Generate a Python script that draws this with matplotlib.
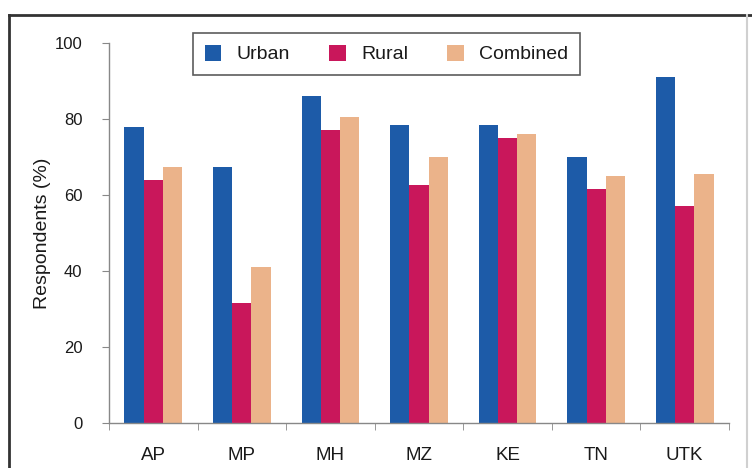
import matplotlib
matplotlib.use("Agg")
import matplotlib.pyplot as plt
import numpy as np
from matplotlib.lines import Line2D

categories = ["AP", "MP", "MH", "MZ", "KE", "TN", "UTK"]
urban = [78, 67.5, 86, 78.5, 78.5, 70, 91]
rural = [64, 31.5, 77, 62.5, 75, 61.5, 57]
combined = [67.5, 41, 80.5, 70, 76, 65, 65.5]
yticks = [0, 20, 40, 60, 80, 100]

plt.rcParams['font.family'] = ['Liberation Sans', 'DejaVu Sans']

W, H = 752, 468
fig = plt.figure(figsize=(W/100, H/100), dpi=100)
fig.patch.set_facecolor('white')

# outer frame
fig.add_artist(Line2D([9/W, 9/W], [0, 1-15/H], transform=fig.transFigure, color='#333333', lw=2))
fig.add_artist(Line2D([9/W, 1], [1-15/H, 1-15/H], transform=fig.transFigure, color='#333333', lw=2))
fig.add_artist(Line2D([747/W, 747/W], [0, 1-15/H], transform=fig.transFigure, color='#d0d0d0', lw=1.5))

left, right = 109/W, 729/W
bottom, top = 1-423/H, 1-43/H
ax = fig.add_axes([left, bottom, right-left, top-bottom])

x = np.arange(len(categories))
bw = 0.217
c_u, c_r, c_c = '#1d5ba8', '#c9175b', '#ebb38a'
ax.bar(x - bw, urban, bw, color=c_u, label='Urban')
ax.bar(x, rural, bw, color=c_r, label='Rural')
ax.bar(x + bw, combined, bw, color=c_c, label='Combined')

tc = '#1a1a1a'
ax.set_xlim(-0.5, len(categories) - 0.5)
ax.set_ylim(0, 100)
ax.set_yticks(yticks)
ax.set_yticklabels([str(t) for t in yticks], fontsize=12, color=tc)
ax.set_xticks(x)
ax.set_xticklabels(categories, fontsize=13.5, color=tc)
ax.tick_params(axis='x', which='major', length=0, pad=17)
ax.set_xticks(np.arange(-0.5, len(categories), 1.0), minor=True)
ax.tick_params(axis='x', which='minor', length=5, color='#888888', direction='out')
ax.tick_params(axis='y', length=5, color='#888888', pad=14)
for s in ['top', 'right']:
    ax.spines[s].set_visible(False)
for s in ['left', 'bottom']:
    ax.spines[s].set_color('#888888')
    ax.spines[s].set_linewidth(1)
ax.set_ylabel('Respondents (%)', fontsize=14, color=tc, labelpad=3)

leg = ax.legend(ncol=3, loc='upper left', bbox_to_anchor=(193/W, 1 - 33/H),
                bbox_transform=fig.transFigure, borderaxespad=0,
                frameon=True, fancybox=False, fontsize=14, handlelength=0.85, handleheight=0.9,
                columnspacing=2.0, handletextpad=0.8, borderpad=0.6, edgecolor='#333333')
leg.get_frame().set_linewidth(1.2)
for t in leg.get_texts():
    t.set_color(tc)

fig.savefig('out.png', dpi=100)
